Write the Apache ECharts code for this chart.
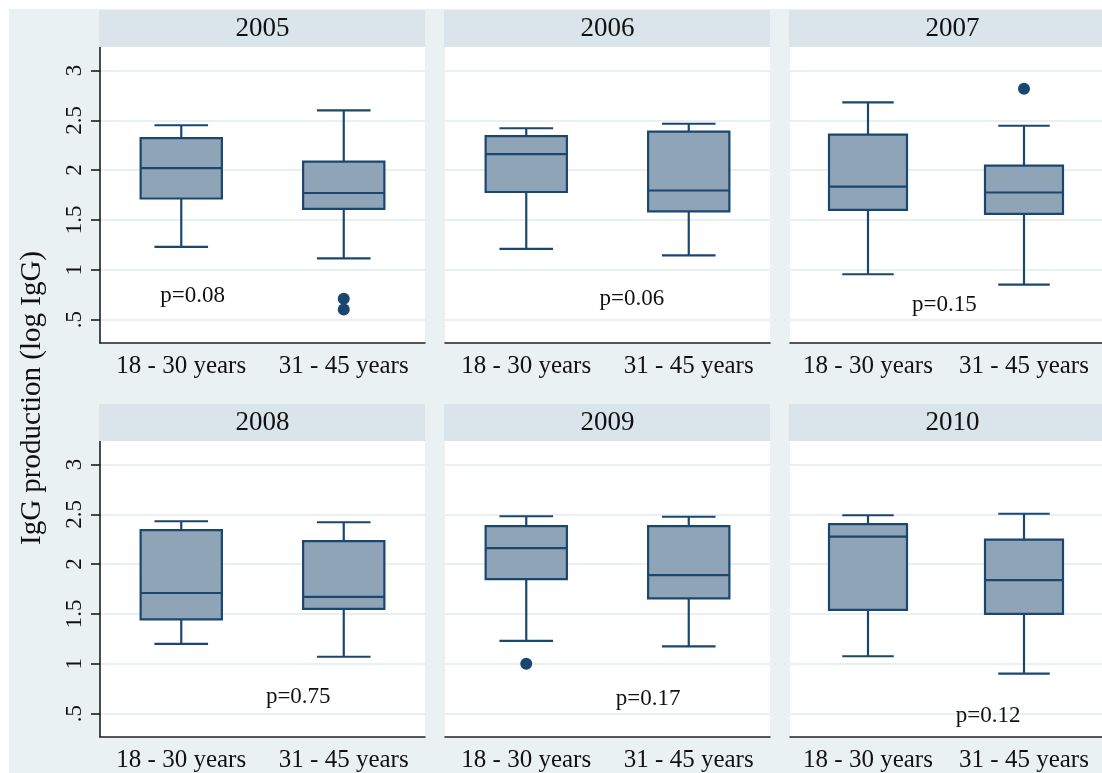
<!DOCTYPE html>
<html style="height: 100%">

<head>
	<meta charset="utf-8">
</head>

<body style="height: 100%; margin: 0; background: #ffffff">
	<div id="container" style="width: 1102px; height: 773px"></div>
	<script type="text/javascript" src="https://cdn.jsdelivr.net/npm/echarts@6/dist/echarts.min.js"></script>
	<script type="text/javascript">
		// panels and groups
		let years = ['2005', '2006', '2007', '2008', '2009', '2010'];
		let groups = ['18 - 30 years', '31 - 45 years'];
		let yTicks = [0.5, 1, 1.5, 2, 2.5, 3];

		// [lower whisker, Q1, median, Q3, upper whisker] per year
		let young = [
			[1.23, 1.715, 2.02, 2.32, 2.45],
			[1.21, 1.78, 2.16, 2.34, 2.42],
			[0.955, 1.60, 1.835, 2.355, 2.68],
			[1.20, 1.445, 1.71, 2.34, 2.43],
			[1.23, 1.85, 2.16, 2.38, 2.48],
			[1.075, 1.54, 2.275, 2.40, 2.49]
		];
		let older = [
			[1.115, 1.61, 1.77, 2.085, 2.60],
			[1.145, 1.585, 1.795, 2.385, 2.465],
			[0.85, 1.56, 1.775, 2.045, 2.445],
			[1.07, 1.55, 1.67, 2.23, 2.42],
			[1.175, 1.655, 1.89, 2.38, 2.475],
			[0.90, 1.50, 1.84, 2.245, 2.505]
		];
		// outliers: [group index, value]
		let outliers = [
			[[1, 0.71], [1, 0.60]],
			[],
			[[1, 2.815]],
			[],
			[[0, 1.0]],
			[]
		];
		let pLabels = ['p=0.08', 'p=0.06', 'p=0.15', 'p=0.75', 'p=0.17', 'p=0.12'];
		// label position: [fraction between group 0 and group 1, y value]
		let pPos = [[0.07, 0.74], [0.65, 0.71], [0.49, 0.65], [0.72, 0.67], [0.75, 0.65], [0.77, 0.48]];

		let navy = '#1a476f';
		let boxFill = '#90a4b8';
		let font = '"Liberation Serif", "Times New Roman", serif';

		let lefts = [100, 445, 790];
		let tops = [47, 441];
		let gw = 325, gh = 296;

		let dom = document.getElementById("container");
		let myChart = echarts.init(dom);

		function renderBox(params, api) {
			let idx = api.value(0);
			let cx = api.coord([idx, 0])[0];
			let band = api.size([1, 0])[0];
			let half = band * 0.25;
			let cap = band * 0.165;
			let yLo = api.coord([idx, api.value(1)])[1];
			let yQ1 = api.coord([idx, api.value(2)])[1];
			let yMed = api.coord([idx, api.value(3)])[1];
			let yQ3 = api.coord([idx, api.value(4)])[1];
			let yHi = api.coord([idx, api.value(5)])[1];
			let ls = { stroke: navy, lineWidth: 2.2 };
			return {
				type: 'group',
				children: [
					{ type: 'line', shape: { x1: cx, y1: yQ3, x2: cx, y2: yHi }, style: ls },
					{ type: 'line', shape: { x1: cx, y1: yQ1, x2: cx, y2: yLo }, style: ls },
					{ type: 'line', shape: { x1: cx - cap, y1: yHi, x2: cx + cap, y2: yHi }, style: ls },
					{ type: 'line', shape: { x1: cx - cap, y1: yLo, x2: cx + cap, y2: yLo }, style: ls },
					{ type: 'rect', shape: { x: cx - half, y: yQ3, width: half * 2, height: yQ1 - yQ3 }, style: { fill: boxFill, stroke: navy, lineWidth: 2.2 } },
					{ type: 'line', shape: { x1: cx - half, y1: yMed, x2: cx + half, y2: yMed }, style: ls }
				]
			};
		}

		let grid = [], xAxis = [], yAxis = [], series = [], graphic = [];

		years.forEach(function (yr, i) {
			let col = i % 3, row = Math.floor(i / 3);
			let left = lefts[col], top = tops[row];
			grid.push({
				left: left, top: top, width: gw, height: gh,
				show: true, backgroundColor: '#ffffff', borderWidth: 0
			});
			xAxis.push({
				type: 'category', gridIndex: i, data: groups,
				axisLine: { lineStyle: { color: '#222', width: 1.5 } },
				axisTick: { show: false },
				axisLabel: { interval: 0, margin: 11, fontSize: 25, fontFamily: font, color: '#111' },
				splitLine: { show: false }
			});
			let first = col === 0;
			yAxis.push({
				type: 'value', gridIndex: i, min: 0.265, max: 3.235,
				axisLine: { show: first, lineStyle: { color: '#111', width: 1.5 } },
				axisTick: { show: first, length: 9, lineStyle: { color: '#111', width: 1.5 }, customValues: yTicks },
				axisLabel: {
					show: first, rotate: 90, margin: 14, fontSize: 23, fontFamily: font, color: '#111',
					customValues: yTicks,
					formatter: function (v) { return v === 0.5 ? '.5' : String(v); }
				},
				splitLine: { show: true, lineStyle: { color: '#e9f0f2', width: 2 } }
			});

			series.push({
				type: 'custom', xAxisIndex: i, yAxisIndex: i,
				renderItem: renderBox,
				encode: { x: 0, y: [1, 2, 3, 4, 5] },
				data: [[0].concat(young[i]), [1].concat(older[i])],
				z: 3
			});
			series.push({
				type: 'scatter', xAxisIndex: i, yAxisIndex: i,
				symbolSize: 12, itemStyle: { color: navy, opacity: 1 },
				data: outliers[i],
				z: 4
			});
			series.push({
				type: 'custom', xAxisIndex: i, yAxisIndex: i,
				data: [pPos[i]],
				renderItem: function (params, api) {
					let f = api.value(0), v = api.value(1);
					let p0 = api.coord([0, v]);
					let p1 = api.coord([1, v]);
					return {
						type: 'text',
						x: p0[0] + f * (p1[0] - p0[0]), y: p0[1],
						style: {
							text: pLabels[i], fill: '#111', font: '23px ' + font,
							align: 'center', verticalAlign: 'middle'
						}
					};
				},
				z: 5
			});

			// header strip
			graphic.push({
				type: 'rect', shape: { x: left - 1, y: top - 37, width: gw + 1, height: 37 },
				style: { fill: '#d9e5eb' }, z: 1
			});
			graphic.push({
				type: 'text', x: left + gw / 2, y: top - 18,
				style: { text: yr, fill: '#111', font: '27px ' + font, align: 'center', verticalAlign: 'middle' },
				z: 2
			});
		});

		graphic.push({
			type: 'text', x: 32, y: 398, rotation: Math.PI / 2,
			style: { text: 'IgG production (log IgG)', fill: '#111', font: '29px ' + font, align: 'center', verticalAlign: 'middle' },
			z: 2
		});
		// white margin round the graph region
		graphic.push({ type: 'rect', shape: { x: 0, y: 0, width: 1102, height: 9 }, style: { fill: '#ffffff' }, z: 50 });
		graphic.push({ type: 'rect', shape: { x: 0, y: 0, width: 9, height: 773 }, style: { fill: '#ffffff' }, z: 50 });

		let option = {
			backgroundColor: '#e9f1f3',
			animation: false,
			grid: grid,
			xAxis: xAxis,
			yAxis: yAxis,
			series: series,
			graphic: graphic
		};
		myChart.setOption(option);
	</script>
</body>

</html>
